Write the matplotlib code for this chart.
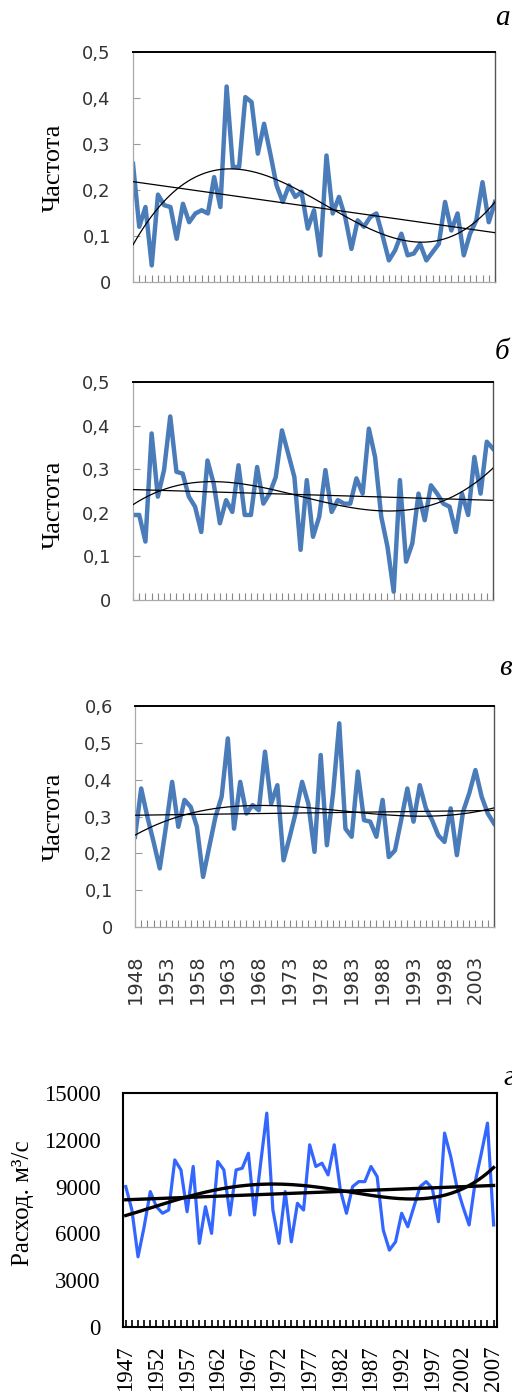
import matplotlib
matplotlib.use("Agg")
import matplotlib.pyplot as plt
import numpy as np
from matplotlib.ticker import FuncFormatter, MultipleLocator

# --- data -------------------------------------------------------------
years_abv = np.arange(1948, 2007)          # panels а, б, в
years_g = np.arange(1947, 2008)            # panel г

freq_a = [0.257, 0.12, 0.163, 0.036, 0.19, 0.167, 0.163, 0.094, 0.17, 0.13,
          0.149, 0.156, 0.149, 0.228, 0.163, 0.425, 0.25, 0.25, 0.402, 0.391,
          0.279, 0.344, 0.279, 0.21, 0.174, 0.21, 0.185, 0.196, 0.116, 0.156,
          0.058, 0.275, 0.149, 0.185, 0.141, 0.072, 0.134, 0.12, 0.141, 0.149,
          0.1, 0.047, 0.069, 0.105, 0.058, 0.062, 0.083, 0.047, 0.065, 0.083,
          0.174, 0.112, 0.149, 0.058, 0.105, 0.134, 0.217, 0.13, 0.174]

freq_b = [0.195, 0.195, 0.134, 0.382, 0.237, 0.298, 0.421, 0.294, 0.29, 0.237,
          0.214, 0.156, 0.32, 0.267, 0.176, 0.229, 0.202, 0.309, 0.195, 0.195,
          0.305, 0.221, 0.244, 0.282, 0.389, 0.336, 0.282, 0.115, 0.275, 0.145,
          0.191, 0.298, 0.202, 0.229, 0.221, 0.221, 0.279, 0.244, 0.393, 0.328,
          0.191, 0.122, 0.019, 0.275, 0.088, 0.13, 0.244, 0.183, 0.263, 0.244,
          0.221, 0.214, 0.156, 0.244, 0.195, 0.328, 0.244, 0.363, 0.347]

freq_v = [0.245, 0.376, 0.299, 0.231, 0.159, 0.272, 0.394, 0.272, 0.345, 0.326,
          0.272, 0.136, 0.218, 0.299, 0.354, 0.512, 0.267, 0.394, 0.308, 0.331,
          0.317, 0.476, 0.335, 0.385, 0.181, 0.245, 0.313, 0.394, 0.335, 0.204,
          0.467, 0.222, 0.363, 0.553, 0.267, 0.245, 0.422, 0.29, 0.286, 0.245,
          0.345, 0.19, 0.208, 0.29, 0.376, 0.286, 0.385, 0.322, 0.29, 0.249,
          0.231, 0.322, 0.195, 0.313, 0.363, 0.426, 0.354, 0.308, 0.281]

discharge = [9000, 7500, 4500, 6430, 8680, 7710, 7290, 7500, 10710, 10070,
             7390, 10290, 5360, 7710, 6000, 10610, 10070, 7180, 10070, 10180,
             11140, 7180, 10500, 13710, 7500, 5360, 8680, 5460, 7930, 7500,
             11680, 10290, 10500, 9750, 11680, 8790, 7290, 9000, 9320, 9320,
             10290, 9640, 6210, 4930, 5460, 7290, 6430, 7710, 9000, 9320,
             8890, 6750, 12430, 10930, 9000, 7710, 6540, 9320, 11140, 13070,
             6540]

panel_letters = ["а", "б", "в", "г"]
ylims = [0.5, 0.5, 0.6]
label_years_v = np.arange(1948, 2004, 5)
label_years_g = np.arange(1947, 2008, 5)

SERIF = ["Liberation Serif", "DejaVu Serif", "serif"]

W, H = 512, 1394
fig = plt.figure(figsize=(W / 100, H / 100), dpi=100, facecolor="white")


def px_axes(left, top, right, bottom):
    return fig.add_axes([left / W, 1 - bottom / H, (right - left) / W, (bottom - top) / H])


def comma_fmt(v, _):
    return "0" if abs(v) < 1e-9 else f"{v:.1f}".replace(".", ",")


def trends(x, y, deg):
    xs = np.linspace(x[0], x[-1], 200)
    lin = np.polyval(np.polyfit(x - x[0], y, 1), xs - x[0])
    poly = np.polyval(np.polyfit(x - x[0], y, deg), xs - x[0])
    return xs, lin, poly


boxes = [(133, 52, 495, 282), (133, 382, 493, 600), (135, 706, 494, 927)]
series = [freq_a, freq_b, freq_v]
ylabel_y = [168, 505, 817]
letter_pos = [(502, 18), (502, 352), (505, 668)]

for i, (box, vals, ymax) in enumerate(zip(boxes, series, ylims)):
    ax = px_axes(*box)
    vals = np.asarray(vals)
    ax.plot(years_abv, vals, color="#4a7cba", lw=3.2, zorder=2)
    xs, lin, poly = trends(years_abv.astype(float), vals, 3)
    ax.plot(xs, lin, color="black", lw=0.9, zorder=3)
    ax.plot(xs, poly, color="black", lw=0.9, zorder=3)
    ax.set_xlim(years_abv[0], years_abv[-1])
    ax.set_ylim(0, ymax)
    ax.yaxis.set_major_locator(MultipleLocator(0.1))
    ax.yaxis.set_major_formatter(FuncFormatter(comma_fmt))
    ax.tick_params(axis="y", direction="in", length=5, width=0.8, color="#999999",
                   pad=16, labelsize=13, labelcolor="#333333")
    if i == 2:
        ax.set_xticks(label_years_v)
        ax.set_xticklabels([str(y) for y in label_years_v], rotation=90,
                           fontsize=14, color="#333333")
    else:
        ax.set_xticks([])
    ax.xaxis.set_minor_locator(MultipleLocator(1))
    ax.tick_params(axis="x", which="both", direction="in", length=5, width=0.8,
                   color="#888888", pad=20)
    for side in ["left", "bottom"]:
        ax.spines[side].set_color("#aaaaaa")
        ax.spines[side].set_linewidth(0.9)
    ax.spines["right"].set_color("#555555")
    ax.spines["right"].set_linewidth(1.0)
    ax.spines["top"].set_color("black")
    ax.spines["top"].set_linewidth(1.4)
    fig.text(54 / W, 1 - ylabel_y[i] / H, "Частота", rotation=90,
             ha="center", va="center", family=SERIF, fontsize=19)
    fig.text(letter_pos[i][0] / W, 1 - letter_pos[i][1] / H, panel_letters[i],
             ha="center", va="center", family=SERIF, style="italic", fontsize=21)

# --- panel г ----------------------------------------------------------
ax = px_axes(123, 1093, 497, 1327)
q = np.asarray(discharge, dtype=float)
ax.plot(years_g, q, color="#3366ff", lw=2.3, zorder=2)
xs, lin, poly = trends(years_g.astype(float), q, 4)
ax.plot(xs, lin, color="black", lw=2.4, zorder=3)
ax.plot(xs, poly, color="black", lw=2.4, zorder=3)
ax.set_xlim(years_g[0] - 0.45, years_g[-1] + 0.55)
ax.set_ylim(0, 15000)
ax.set_yticks(np.arange(0, 15001, 3000))
ax.set_xticks(label_years_g)
ax.set_xticklabels([str(y) for y in label_years_g], rotation=90,
                   family=SERIF, fontsize=16.5)
for lab in ax.get_yticklabels():
    lab.set_family(SERIF)
ax.xaxis.set_minor_locator(MultipleLocator(1))
ax.tick_params(axis="x", which="both", direction="in", length=5, width=1.2,
               color="black", pad=13)
ax.tick_params(axis="y", length=0, pad=16, labelsize=16.5)
for side in ax.spines:
    ax.spines[side].set_color("black")
    ax.spines[side].set_linewidth(1.5)
fig.text(23 / W, 1 - 1203 / H, "Расход. м³/с", rotation=90, ha="center",
         va="center", family=SERIF, fontsize=18)
fig.text(509 / W, 1 - 1078 / H, panel_letters[3], ha="center", va="center",
         family=SERIF, style="italic", fontsize=21)

fig.savefig("out.png", dpi=100, facecolor="white")
